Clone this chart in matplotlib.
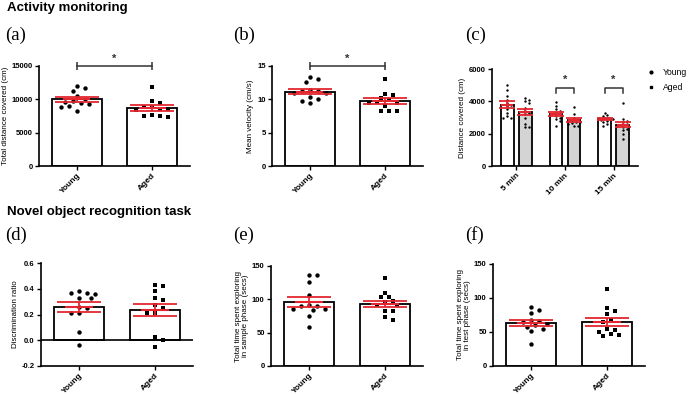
import numpy as np
import matplotlib.pyplot as plt
from matplotlib.lines import Line2D

plt.rcParams['font.family'] = 'Liberation Sans'
plt.rcParams['font.weight'] = 'bold'
plt.rcParams['axes.unicode_minus'] = False

RED = '#e3262f'
W, H = 689, 394

groups = ['Young', 'Aged']

# (a) total distance covered (cm)
dist_young = [12000, 11700, 11200, 10500, 10100, 9800, 9600, 9400, 9300, 9000, 8900, 8200]
dist_aged = [11800, 9700, 9500, 8800, 8800, 8600, 8500, 8400, 7600, 7500, 7500, 7400]
dist_mean = [9980, 8700]
dist_sem = [380, 420]

# (b) mean velocity (cm/s)
vel_young = [13.4, 13.0, 12.6, 11.4, 11.3, 11.2, 11.0, 10.9, 10.3, 10.1, 9.8, 9.4]
vel_aged = [13.1, 10.8, 10.6, 10.2, 9.9, 9.6, 9.5, 9.5, 9.0, 8.3, 8.3, 8.3]
vel_mean = [11.15, 9.7]
vel_sem = [0.4, 0.45]

# (c) distance per time bin
time_labels = ['5 min', '10 min', '15 min']
bin_young = [
    [5000, 4700, 4300, 4100, 3900, 3800, 3700, 3500, 3300, 3100, 3000, 3000],
    [3950, 3700, 3500, 3400, 3300, 3200, 3200, 3100, 3000, 2900, 2800, 2500],
    [3300, 3150, 3100, 3000, 3000, 2950, 2900, 2850, 2800, 2700, 2600, 2500],
]
bin_aged = [
    [4200, 4100, 4000, 3900, 3600, 3400, 3300, 3200, 3000, 2600, 2400, 2400],
    [3650, 3200, 3000, 2900, 2850, 2800, 2750, 2700, 2650, 2600, 2500, 2450],
    [3900, 2900, 2800, 2700, 2600, 2550, 2500, 2400, 2300, 2200, 2000, 1700],
]
bin_young_mean = [3800, 3210, 2900]
bin_young_sem = [200, 120, 80]
bin_aged_mean = [3350, 2840, 2550]
bin_aged_sem = [190, 100, 160]

# (d) discrimination ratio
dr_young = [0.37, 0.37, 0.38, 0.36, 0.33, 0.33, 0.26, 0.25, 0.21, 0.21, 0.065, -0.035]
dr_aged = [0.42, 0.43, 0.38, 0.33, 0.31, 0.27, 0.25, 0.21, 0.21, 0.025, 0.0, -0.055]
dr_mean = [0.258, 0.232]
dr_sem = [0.038, 0.047]

# (e) sample phase exploration (secs)
samp_young = [137, 137, 126, 106, 90, 92, 90, 86, 85, 84, 75, 58]
samp_aged = [132, 110, 104, 103, 98, 96, 92, 91, 83, 82, 73, 69]
samp_mean = [96, 93]
samp_sem = [7, 5]

# (f) test phase exploration (secs)
test_young = [87, 83, 78, 68, 66, 64, 62, 58, 55, 52, 33, 60]
test_aged = [113, 86, 81, 76, 68, 64, 55, 53, 50, 47, 45, 44]
test_mean = [63.5, 65]
test_sem = [4.2, 6]

fig = plt.figure(figsize=(W / 100, H / 100), dpi=100)


def px_axes(left, top, right, bottom):
    return fig.add_axes([left / W, 1 - bottom / H, (right - left) / W, (bottom - top) / H])


def swarm(ax, xc, vals, gap, step):
    # simple beeswarm: spread points sideways so they do not overlap (in pixels)
    vals = np.asarray(vals, float)
    T = ax.transData
    ypx = T.transform(np.column_stack([np.full(len(vals), xc), vals]))[:, 1]
    ppu = T.transform((1, 0))[0] - T.transform((0, 0))[0]
    cands = [0.0]
    for k in range(1, 15):
        cands += [k * step, -k * step]
    placed = []
    off = np.zeros(len(vals))
    for i in np.argsort(-vals):
        for c in cands:
            if all((c - px) ** 2 + (ypx[i] - py) ** 2 >= gap ** 2 for px, py in placed):
                break
        placed.append((c, ypx[i]))
        off[i] = c / ppu
    return off


def style_axes(ax, ylabel):
    ax.spines[['top', 'right']].set_visible(False)
    ax.spines[['left', 'bottom']].set_linewidth(1.2)
    ax.tick_params(width=1, length=3, labelsize=5.5, pad=1.5)
    ax.tick_params(axis='x', labelsize=6)
    ax.set_ylabel(ylabel, fontsize=5.8, labelpad=2, linespacing=1.1)


def two_bar_panel(ax, young, aged, means, sems, ylim, yticks, ylabel, fmt='{:g}'):
    x = np.arange(2)
    ax.set_xlim(-0.5, 1.5)
    ax.set_ylim(*ylim)
    ax.bar(x, means, width=0.66, color='white', edgecolor='black', linewidth=1.3, zorder=1)
    for xi, pts, mk in zip(x, [young, aged], ['o', 's']):
        off = swarm(ax, xi, pts, 5.5, 4.0)
        ax.scatter(xi + off, pts, s=10, marker=mk, color='black', linewidths=0, zorder=3)
    ax.hlines(means, x - 0.18, x + 0.18, color=RED, lw=1.5, zorder=4)
    ax.errorbar(x, means, yerr=sems, fmt='none', ecolor=RED, elinewidth=1.3,
                capsize=16, capthick=1.3, zorder=4)
    ax.set_yticks(yticks, [fmt.format(t) for t in yticks])
    ax.set_xticks(x, groups, rotation=45, ha='right', rotation_mode='anchor')
    style_axes(ax, ylabel)


def star_bracket(ax, x1, x2, y, lo, hi, star_y):
    ax.plot([x1, x2], [y, y], color='#333333', lw=1.1, clip_on=False)
    ax.vlines([x1, x2], lo, hi, color='#333333', lw=1.1, clip_on=False)
    ax.text((x1 + x2) / 2, star_y, '*', ha='center', va='center', fontsize=8, color='#333333')


# ---- row 1: activity monitoring ----
ax_a = px_axes(39, 66, 190, 166)
two_bar_panel(ax_a, dist_young, dist_aged, dist_mean, dist_sem, (0, 15000),
              [0, 5000, 10000, 15000], 'Total distance covered (cm)')
star_bracket(ax_a, 0, 1, 15000, 14350, 15600, 16000)

ax_b = px_axes(272, 66, 423, 166)
two_bar_panel(ax_b, vel_young, vel_aged, vel_mean, vel_sem, (0, 15),
              [0, 5, 10, 15], 'Mean velocity (cm/s)')
star_bracket(ax_b, 0, 1, 15, 14.35, 15.6, 16.0)

ax_c = px_axes(492, 69, 638, 166)
xc = np.arange(3)
ax_c.set_xlim(-0.5, 2.5)
ax_c.set_ylim(0, 6000)
ax_c.bar(xc - 0.185, bin_young_mean, width=0.26, color='white', edgecolor='black', linewidth=1.3, zorder=1)
ax_c.bar(xc + 0.185, bin_aged_mean, width=0.26, color='#d4d4d4', edgecolor='black', linewidth=1.3, zorder=1)
for i in range(3):
    for dx, pts in [(-0.185, bin_young[i]), (0.185, bin_aged[i])]:
        off = swarm(ax_c, xc[i] + dx, pts, 3.0, 2.0)
        ax_c.scatter(xc[i] + dx + off, pts, s=3, color='black', linewidths=0, zorder=3)
for dx, m, e in [(-0.185, bin_young_mean, bin_young_sem), (0.185, bin_aged_mean, bin_aged_sem)]:
    ax_c.hlines(m, xc + dx - 0.12, xc + dx + 0.12, color=RED, lw=1.5, zorder=4)
    ax_c.errorbar(xc + dx, m, yerr=e, fmt='none', ecolor=RED, elinewidth=1.3,
                  capsize=6, capthick=1.3, zorder=4)
ax_c.set_yticks([0, 2000, 4000, 6000])
ax_c.set_xticks(xc, time_labels, rotation=45, ha='right', rotation_mode='anchor')
style_axes(ax_c, 'Distance covered (cm)')
for i in [1, 2]:
    ax_c.plot([xc[i] - 0.185, xc[i] - 0.185, xc[i] + 0.185, xc[i] + 0.185],
              [4490, 4800, 4800, 4490], color='#333333', lw=1.1)
    ax_c.text(xc[i], 5300, '*', ha='center', va='center', fontsize=8, color='#333333')

legend_handles = [
    Line2D([], [], marker='o', ls='none', color='black', markersize=2),
    Line2D([], [], marker='s', ls='none', color='black', markersize=1.8),
]
fig.legend(legend_handles, groups, loc='upper left', bbox_to_anchor=(648 / W, 1 - 68 / H),
           frameon=False, handlelength=0.8, handletextpad=0.9, borderpad=0, borderaxespad=0,
           labelspacing=0.75, prop={'size': 6.2, 'weight': 'normal'})

# ---- row 2: novel object recognition ----
ax_d = px_axes(41, 263, 193, 366)
two_bar_panel(ax_d, dr_young, dr_aged, dr_mean, dr_sem, (-0.2, 0.6),
              [-0.2, 0.0, 0.2, 0.4, 0.6], 'Discrimination ratio', fmt='{:.1f}')
ax_d.axhline(0, color='black', lw=1.2, zorder=2)

ax_e = px_axes(271, 266, 423, 366)
two_bar_panel(ax_e, samp_young, samp_aged, samp_mean, samp_sem, (0, 150),
              [0, 50, 100, 150], 'Total time spent exploring\nin sample phase (secs)')

ax_f = px_axes(493, 264, 645, 366)
two_bar_panel(ax_f, test_young, test_aged, test_mean, test_sem, (0, 150),
              [0, 50, 100, 150], 'Total time spent exploring\nin test phase (secs)')

# section titles and panel letters
fig.text(7 / W, 1 - 8 / H, 'Activity monitoring', fontsize=9.5, weight='bold', va='center')
fig.text(7 / W, 1 - 212 / H, 'Novel object recognition task', fontsize=9.5, weight='bold', va='center')
for lbl, x, y in [('(a)', 5, 35), ('(b)', 233, 35), ('(c)', 465, 35),
                  ('(d)', 5, 235), ('(e)', 233, 235), ('(f)', 465, 235)]:
    fig.text(x / W, 1 - y / H, lbl, family='Liberation Serif', weight='normal',
             fontsize=13.5, va='center')

fig.savefig('out.png', dpi=100)
